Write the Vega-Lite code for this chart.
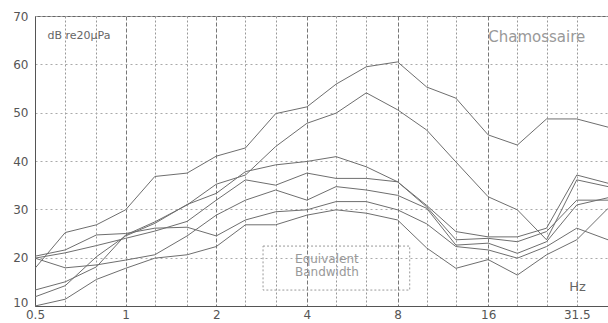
{
  "$schema": "https://vega.github.io/schema/vega-lite/v6.json",
  "width": 573,
  "height": 290,
  "autosize": {"type": "none"},
  "padding": {"left": 35, "top": 16, "right": 0, "bottom": 17},
  "background": "white",
  "config": {
    "view": {"stroke": "#666", "strokeWidth": 1},
    "font": "DejaVu Sans"
  },
  "datasets": {
    "levels": [
      {"f": 0.5, "A": 17.8, "B": 13.3, "L3": 11.9, "L4": 19.9, "L5": 19.9, "L6": 20.3, "L7": 10.0},
      {"f": 0.63, "A": 25.2, "B": 15.0, "L3": 14.2, "L4": 21.0, "L5": 17.9, "L6": 21.6, "L7": 11.4},
      {"f": 0.8, "A": 26.8, "B": 18.1, "L3": 20.2, "L4": 22.5, "L5": 18.5, "L6": 24.7, "L7": 15.5},
      {"f": 1, "A": 29.9, "B": 24.7, "L3": 24.5, "L4": 24.0, "L5": 19.5, "L6": 25.0, "L7": 17.8},
      {"f": 1.25, "A": 36.8, "B": 27.4, "L3": 27.1, "L4": 25.5, "L5": 20.6, "L6": 26.1, "L7": 19.9},
      {"f": 1.6, "A": 37.5, "B": 30.9, "L3": 31.0, "L4": 27.5, "L5": 24.5, "L6": 26.3, "L7": 20.6},
      {"f": 2, "A": 41.0, "B": 35.2, "L3": 33.3, "L4": 31.9, "L5": 28.8, "L6": 24.5, "L7": 22.3},
      {"f": 2.5, "A": 42.7, "B": 37.1, "L3": 37.8, "L4": 36.1, "L5": 31.9, "L6": 27.8, "L7": 26.8},
      {"f": 3.15, "A": 49.8, "B": 43.0, "L3": 39.2, "L4": 35.0, "L5": 34.0, "L6": 29.5, "L7": 26.8},
      {"f": 4, "A": 51.2, "B": 47.8, "L3": 39.9, "L4": 37.5, "L5": 31.9, "L6": 29.9, "L7": 28.8},
      {"f": 5, "A": 55.9, "B": 49.9, "L3": 40.9, "L4": 36.4, "L5": 34.7, "L6": 31.6, "L7": 29.9},
      {"f": 6.3, "A": 59.5, "B": 54.1, "L3": 38.8, "L4": 36.4, "L5": 34.0, "L6": 31.6, "L7": 29.2},
      {"f": 8, "A": 60.5, "B": 50.6, "L3": 35.7, "L4": 35.7, "L5": 32.9, "L6": 29.9, "L7": 27.8},
      {"f": 10, "A": 55.3, "B": 46.4, "L3": 30.8, "L4": 30.5, "L5": 30.2, "L6": 27.0, "L7": 22.0},
      {"f": 12.5, "A": 53.0, "B": 39.8, "L3": 25.4, "L4": 23.7, "L5": 22.6, "L6": 22.3, "L7": 17.8},
      {"f": 16, "A": 45.4, "B": 32.6, "L3": 24.3, "L4": 24.0, "L5": 23.0, "L6": 21.6, "L7": 19.6},
      {"f": 20, "A": 43.3, "B": 29.9, "L3": 24.3, "L4": 23.3, "L5": 20.9, "L6": 19.9, "L7": 16.4},
      {"f": 25, "A": 48.7, "B": 23.7, "L3": 26.1, "L4": 25.4, "L5": 23.3, "L6": 22.3, "L7": 20.6},
      {"f": 31.5, "A": 48.7, "B": 36.1, "L3": 37.1, "L4": 31.9, "L5": 30.9, "L6": 26.1, "L7": 23.7},
      {"f": 40, "A": 47.0, "B": 34.7, "L3": 35.4, "L4": 31.9, "L5": 32.4, "L6": 23.7, "L7": 30.2}
    ],
    "notes": [
      {"label": "dB re20\u00b5Pa", "f": 0.55, "db": 65.9, "kind": "unit"},
      {"label": "Chamossaire", "f": 23.2, "db": 65.7, "kind": "title"},
      {"label": "Equivalent", "f": 4.66, "db": 19.7, "kind": "box"},
      {"label": "Bandwidth", "f": 4.66, "db": 17.0, "kind": "box"},
      {"label": "Hz", "f": 31.7, "db": 13.9, "kind": "hz"}
    ],
    "box": [
      {"f1": 2.86, "f2": 8.78, "db1": 13.3, "db2": 22.4}
    ]
  },
  "layer": [
    {
      "data": {"name": "levels"},
      "transform": [{"fold": ["A", "B", "L3", "L4", "L5", "L6", "L7"], "as": ["series", "db"]}],
      "mark": {"type": "line", "color": "#6e6e6e", "strokeWidth": 1, "clip": true},
      "encoding": {
        "x": {
          "field": "f", "type": "quantitative",
          "scale": {"type": "log", "domain": [0.5, 40], "nice": false},
          "axis": {
            "title": null,
            "values": [0.5, 0.63, 0.8, 1, 1.25, 1.6, 2, 2.5, 3.15, 4, 5, 6.3, 8, 10, 12.5, 16, 20, 25, 31.5, 40],
            "format": "~g",
            "labelExpr": "indexof([0.5,1,2,4,8,16,31.5], datum.value) >= 0 ? datum.label : ''",
            "labelFont": "DejaVu Sans", "labelFontSize": 12, "labelColor": "#555",
            "labelPadding": 3, "labelFlush": false, "labelOverlap": false,
            "ticks": false,
            "domainColor": "#555", "domainWidth": 1,
            "grid": true,
            "gridColor": {"condition": {"test": "indexof([1,2,4,8,16],datum.value) >= 0", "value": "#777"}, "value": "#999"},
            "gridDash": {"condition": {"test": "indexof([1,2,4,8,16],datum.value) >= 0", "value": [4, 2]}, "value": [2, 2]},
            "gridWidth": 1
          }
        },
        "y": {
          "field": "db", "type": "quantitative",
          "scale": {"domain": [10, 70], "nice": false, "zero": false},
          "axis": {
            "title": null,
            "values": [10, 15, 20, 25, 30, 35, 40, 45, 50, 55, 60, 65, 70],
            "labelExpr": "datum.value % 10 == 0 ? datum.label : ''",
            "labelFont": "DejaVu Sans", "labelFontSize": 12, "labelColor": "#555",
            "labelPadding": 7,
            "labelBaseline": {"condition": {"test": "datum.value == 10", "value": "alphabetic"}, "value": "middle"},
            "ticks": false,
            "domainColor": "#555", "domainWidth": 1,
            "grid": true, "gridColor": "#aaa", "gridDash": [2, 3], "gridWidth": 1
          }
        },
        "detail": {"field": "series", "type": "nominal"}
      }
    },
    {
      "data": {"name": "box"},
      "mark": {"type": "rect", "fill": null, "fillOpacity": 0, "stroke": "#999", "strokeWidth": 1, "strokeDash": [2, 2]},
      "encoding": {
        "x": {"field": "f1", "type": "quantitative"},
        "x2": {"field": "f2"},
        "y": {"field": "db1", "type": "quantitative"},
        "y2": {"field": "db2"}
      }
    },
    {
      "data": {"name": "notes"},
      "transform": [{"filter": "datum.kind == 'unit'"}],
      "mark": {"type": "text", "align": "left", "baseline": "middle", "fontSize": 11, "color": "#666", "font": "DejaVu Sans"},
      "encoding": {
        "x": {"field": "f", "type": "quantitative"},
        "y": {"field": "db", "type": "quantitative"},
        "text": {"field": "label"}
      }
    },
    {
      "data": {"name": "notes"},
      "transform": [{"filter": "datum.kind == 'title'"}],
      "mark": {"type": "text", "align": "center", "baseline": "middle", "fontSize": 15, "color": "#999", "font": "DejaVu Sans"},
      "encoding": {
        "x": {"field": "f", "type": "quantitative"},
        "y": {"field": "db", "type": "quantitative"},
        "text": {"field": "label"}
      }
    },
    {
      "data": {"name": "notes"},
      "transform": [{"filter": "datum.kind == 'box'"}],
      "mark": {"type": "text", "align": "center", "baseline": "middle", "fontSize": 12, "color": "#999", "font": "DejaVu Sans"},
      "encoding": {
        "x": {"field": "f", "type": "quantitative"},
        "y": {"field": "db", "type": "quantitative"},
        "text": {"field": "label"}
      }
    },
    {
      "data": {"name": "notes"},
      "transform": [{"filter": "datum.kind == 'hz'"}],
      "mark": {"type": "text", "align": "center", "baseline": "middle", "fontSize": 13, "color": "#666", "font": "DejaVu Sans"},
      "encoding": {
        "x": {"field": "f", "type": "quantitative"},
        "y": {"field": "db", "type": "quantitative"},
        "text": {"field": "label"}
      }
    }
  ]
}
